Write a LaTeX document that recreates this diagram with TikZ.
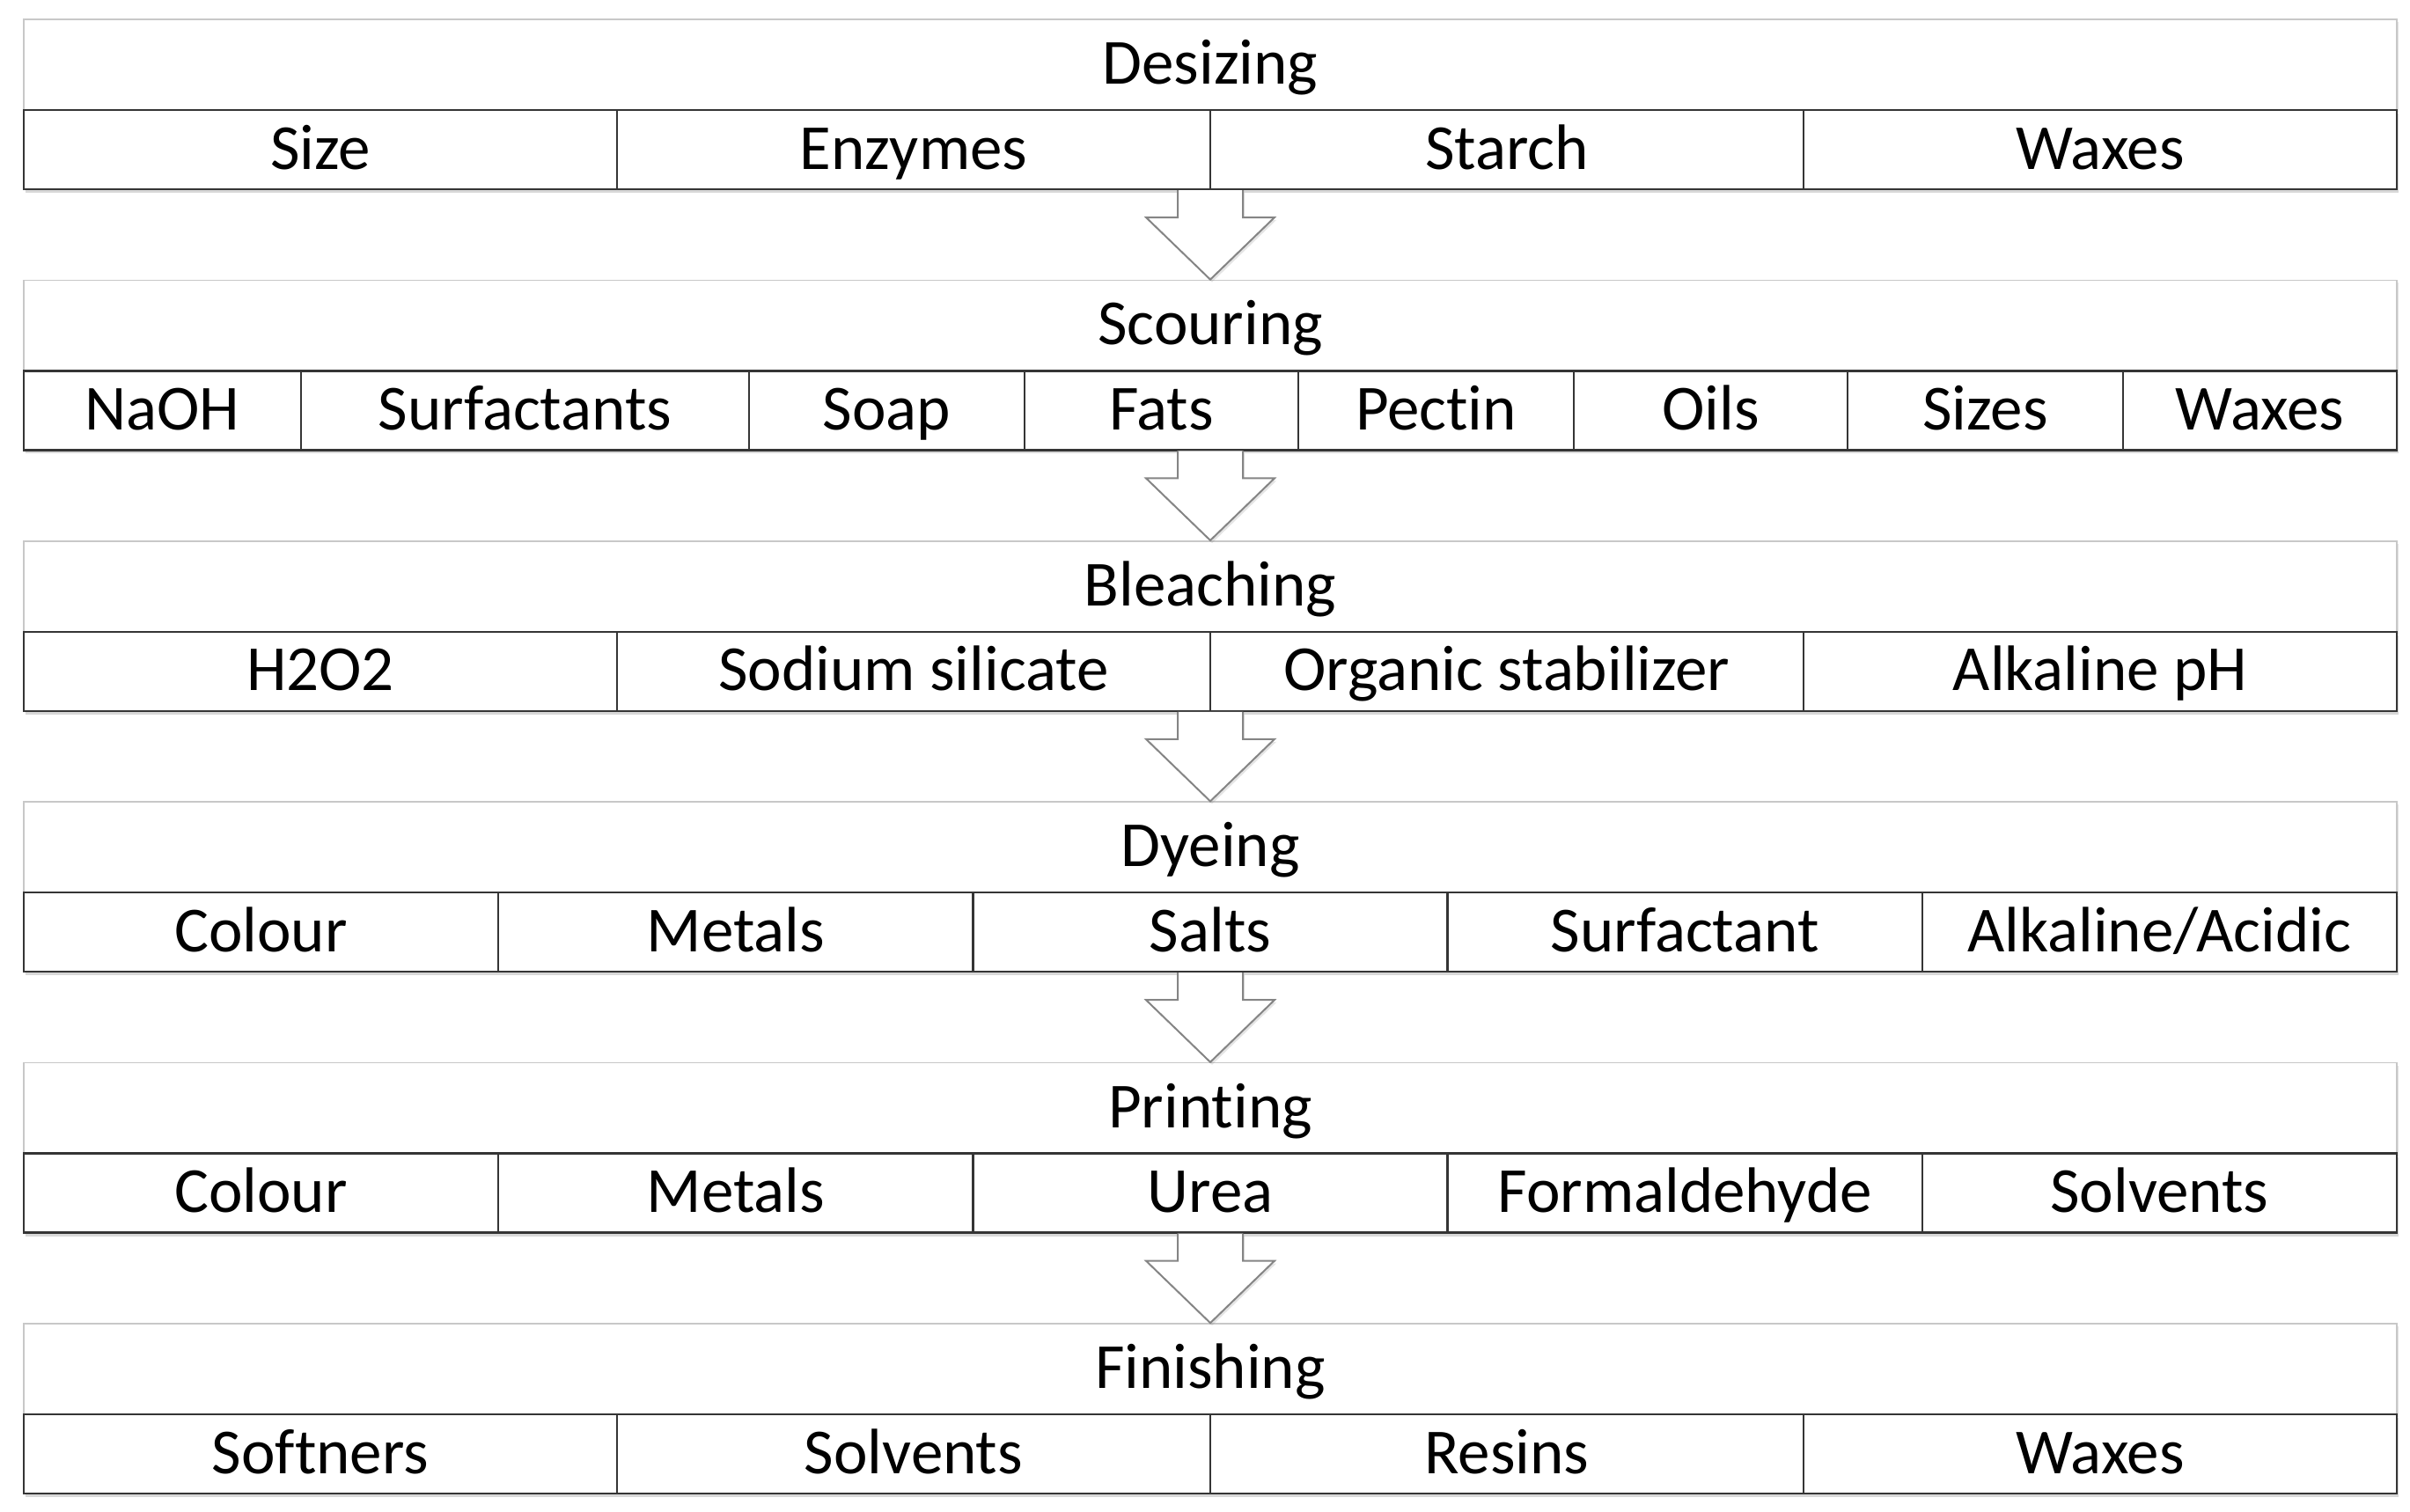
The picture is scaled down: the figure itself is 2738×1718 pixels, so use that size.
\documentclass[tikz,border=0pt]{standalone}
\usepackage{fontspec}
\setmainfont{Carlito}[Ligatures=NoCommon]
\usetikzlibrary{calc,shadows}
\definecolor{hdrline}{HTML}{C8C8C8}
\definecolor{cellline}{HTML}{353535}
\definecolor{arrline}{HTML}{858585}
\tikzset{
  lbl/.style={font=\fontsize{36.5}{40}\selectfont, text=black, text height=28pt, text depth=6pt},
  hdrbox/.style={lbl, draw=hdrline, line width=0.8pt, fill=white, inner sep=0pt,
    minimum width=1348pt, minimum height=51.5pt,
    drop shadow={opacity=0.22, shadow xshift=1.2pt, shadow yshift=-1.5pt}},
  cellbox/.style={lbl, draw=cellline, line width=1.2pt, fill=white, inner sep=0pt,
    minimum height=45pt,
    drop shadow={opacity=0.3, shadow xshift=1.2pt, shadow yshift=-2pt}},
  barrow/.style={draw=arrline, fill=white, line width=1pt, line join=miter,
    drop shadow={opacity=0.2, shadow xshift=1pt, shadow yshift=-1.5pt}},
}
\newcommand\myhdr[3]{\node[hdrbox] (#1) at (1375,{#2+51.5}) {#3};}
\newcommand\mycel[5]{\node[cellbox, minimum width={(#4-#3)*0.5pt}] (#1) at ({(#3+#4)/2},{#2+148}) {#5};}
\newcommand\mybot[2]{\coordinate (#1) at (1375,{#2+194});}
\newcommand\mybarr[2]{\draw[barrow] ($(#1)+(-37,0)$) -- ($(#1)+(-37,31)$) -- ($(#1)+(-73,31)$) -- (#2.north) -- ($(#1)+(73,31)$) -- ($(#1)+(37,31)$) -- ($(#1)+(37,0)$);}
\begin{document}
\begin{tikzpicture}[x=0.5pt,y=-0.5pt]
\useasboundingbox[fill=white] (0,0) rectangle (2738,1718);

% Desizing
\myhdr{h0}{22}{Desizing}
\mycel{d1}{22}{27}{701}{Size}
\mycel{d2}{22}{701}{1375}{Enzymes}
\mycel{d3}{22}{1375}{2049}{Starch}
\mycel{d4}{22}{2049}{2723}{Waxes}
\mybot{b0}{22}

% Scouring
\myhdr{h1}{318.4}{Scouring}
\mycel{s1}{318.4}{27}{342}{NaOH}
\mycel{s2}{318.4}{342}{851}{Surfactants}
\mycel{s3}{318.4}{851}{1164}{Soap}
\mycel{s4}{318.4}{1164}{1475}{Fats}
\mycel{s5}{318.4}{1475}{1788}{Pectin}
\mycel{s6}{318.4}{1788}{2099}{Oils}
\mycel{s7}{318.4}{2099}{2412}{Sizes}
\mycel{s8}{318.4}{2412}{2723}{Waxes}
\mybot{b1}{318.4}

% Bleaching
\myhdr{h2}{614.8}{Bleaching}
\mycel{c1}{614.8}{27}{701}{H2O2}
\mycel{c2}{614.8}{701}{1375}{Sodium silicate}
\mycel{c3}{614.8}{1375}{2049}{Organic stabilizer}
\mycel{c4}{614.8}{2049}{2723}{Alkaline pH}
\mybot{b2}{614.8}

% Dyeing
\myhdr{h3}{911.2}{Dyeing}
\mycel{y1}{911.2}{27}{566.2}{Colour}
\mycel{y2}{911.2}{566.2}{1105.4}{Metals}
\mycel{y3}{911.2}{1105.4}{1644.6}{Salts}
\mycel{y4}{911.2}{1644.6}{2183.8}{Surfactant}
\mycel{y5}{911.2}{2183.8}{2723}{Alkaline/Acidic}
\mybot{b3}{911.2}

% Printing
\myhdr{h4}{1207.6}{Printing}
\mycel{p1}{1207.6}{27}{566.2}{Colour}
\mycel{p2}{1207.6}{566.2}{1105.4}{Metals}
\mycel{p3}{1207.6}{1105.4}{1644.6}{Urea}
\mycel{p4}{1207.6}{1644.6}{2183.8}{Formaldehyde}
\mycel{p5}{1207.6}{2183.8}{2723}{Solvents}
\mybot{b4}{1207.6}

% Finishing
\myhdr{h5}{1504}{Finishing}
\mycel{f1}{1504}{27}{701}{Softners}
\mycel{f2}{1504}{701}{1375}{Solvents}
\mycel{f3}{1504}{1375}{2049}{Resins}
\mycel{f4}{1504}{2049}{2723}{Waxes}

% Arrows
\mybarr{b0}{h1}
\mybarr{b1}{h2}
\mybarr{b2}{h3}
\mybarr{b3}{h4}
\mybarr{b4}{h5}
\end{tikzpicture}
\end{document}
